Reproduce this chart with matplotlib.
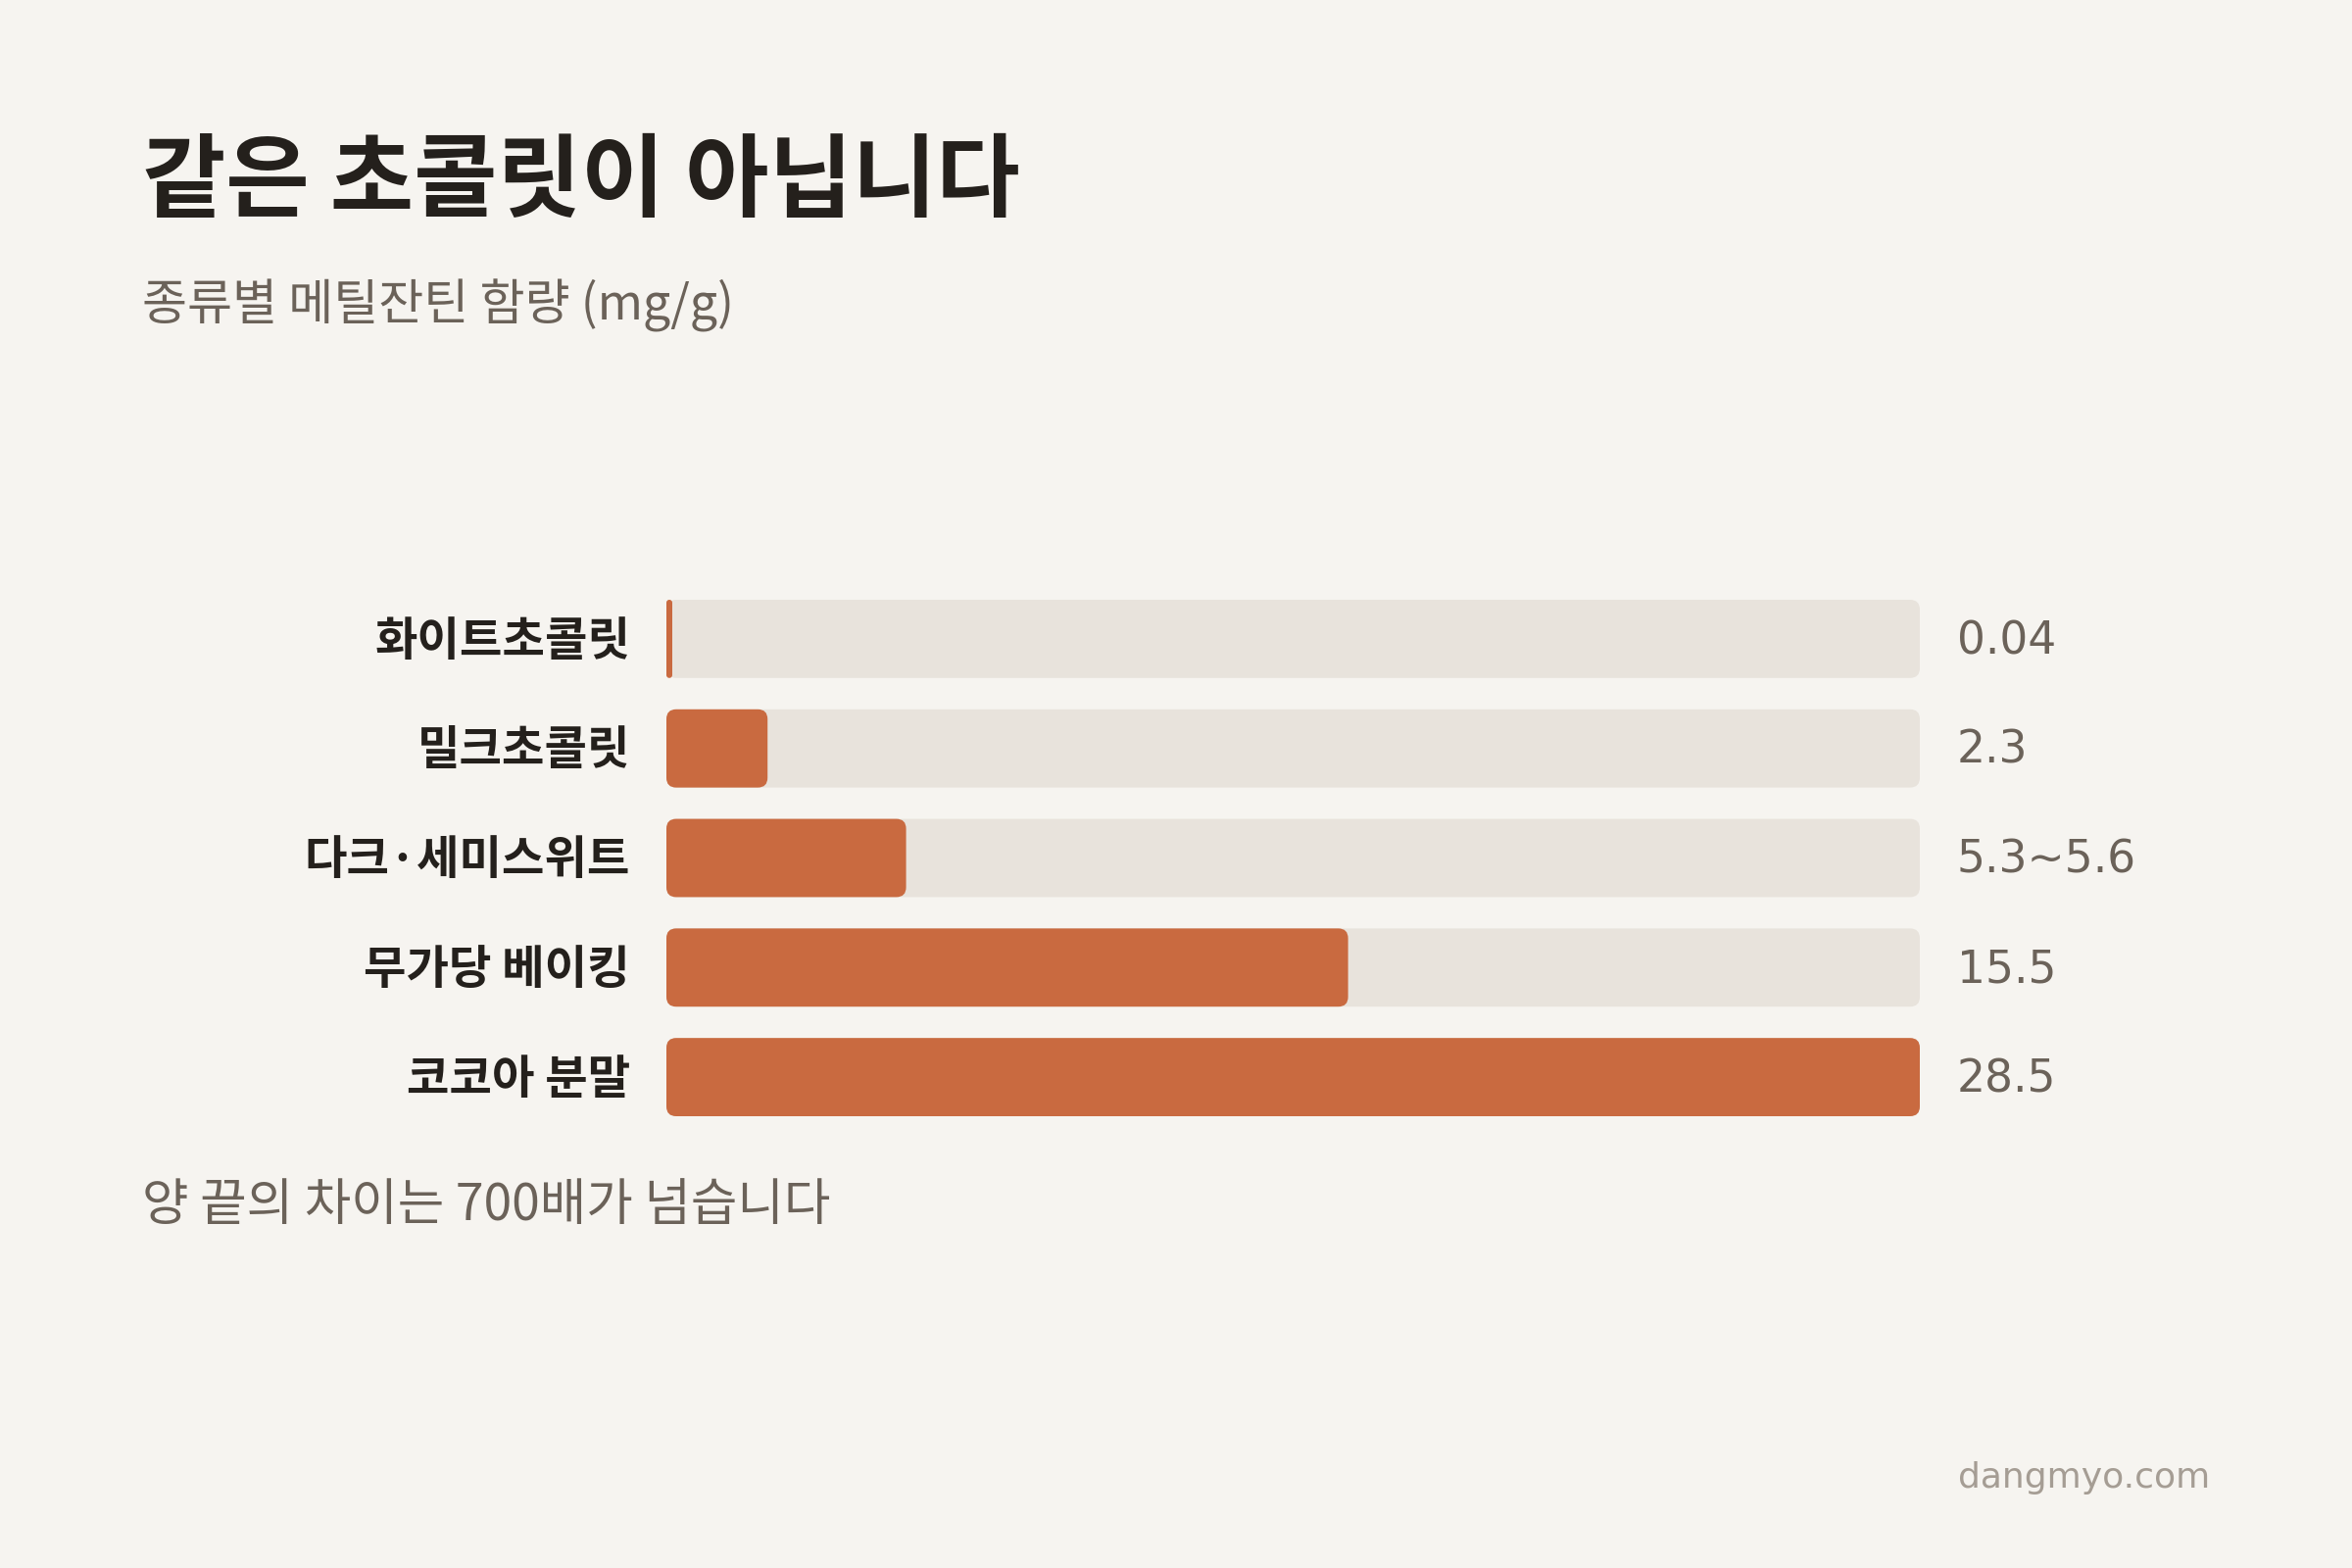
import matplotlib
matplotlib.use("Agg")
import matplotlib.pyplot as plt
from matplotlib.patches import FancyBboxPatch
from matplotlib.transforms import blended_transform_factory

# data
categories = ["화이트초콜릿", "밀크초콜릿", "다크·세미스위트", "무가당 베이킹", "코코아 분말"]
values = [0.04, 2.3, 5.45, 15.5, 28.5]
value_labels = ["0.04", "2.3", "5.3~5.6", "15.5", "28.5"]
max_value = 28.5

title = "같은 초콜릿이 아닙니다"
subtitle = "종류별 메틸잔틴 함량 (mg/g)"
note = "양 끝의 차이는 700배가 넘습니다"
source = "dangmyo.com"

BG = "#f6f4f0"
TRACK = "#e8e3dc"
BAR = "#c96a40"
DARK = "#24201c"
GRAY = "#6b6259"
LIGHT = "#a59d94"

plt.rcParams["font.family"] = ["Noto Sans CJK KR", "DejaVu Sans"]

W, H, DPI = 2400, 1600, 200
fig = plt.figure(figsize=(W / DPI, H / DPI), dpi=DPI, facecolor=BG)

# bar area in pixels: x 680..1959, first bar top 612, last bar bottom 1139
x0, x1 = 680, 1959
y_top, y_bot = 612, 1139
ax = fig.add_axes([x0 / W, 1 - y_bot / H, (x1 - x0) / W, (y_bot - y_top) / H])
ax.set_facecolor("none")
bar_h = 0.714
pad = bar_h / 2
ax.set_xlim(0, max_value)
ax.set_ylim(len(categories) - 1 + pad, -pad)
ax.axis("off")

px_per_x = (x1 - x0) / max_value
px_per_y = (y_bot - y_top) / (len(categories) - 1 + 2 * pad)
aspect = px_per_x / px_per_y
radius = 10 / px_per_x  # ~10 px corner radius
min_w = 6 / px_per_x

tr = blended_transform_factory(ax.transAxes, ax.transData)
for i, (v, lab, vl) in enumerate(zip(values, categories, value_labels)):
    track = FancyBboxPatch((0, i - bar_h / 2), max_value, bar_h,
                           boxstyle=f"round,pad=0,rounding_size={radius}",
                           mutation_aspect=aspect, fc=TRACK, ec="none")
    ax.add_patch(track)
    w = max(v, min_w)
    r = min(radius, w / 2)
    bar = FancyBboxPatch((0, i - bar_h / 2), w, bar_h,
                         boxstyle=f"round,pad=0,rounding_size={r}",
                         mutation_aspect=aspect, fc=BAR, ec="none")
    ax.add_patch(bar)

    ax.annotate(lab, xy=(0, i), xycoords=tr, xytext=(-13.3, -1), textcoords="offset points",
                ha="right", va="center", fontsize=17, fontweight="bold", color=DARK)
    ax.annotate(vl, xy=(1, i), xycoords=tr, xytext=(13.5, -1), textcoords="offset points",
                ha="left", va="center", fontsize=16.4, color=GRAY, family="DejaVu Sans")

fig.text(145 / W, 1 - 187 / H, title, fontsize=33.4, fontweight="bold", color=DARK,
         ha="left", va="center")
fig.text(145 / W, 1 - 312 / H, subtitle, fontsize=18, color=GRAY, ha="left", va="center")
fig.text(145 / W, 1 - 1230 / H, note, fontsize=18.6, color=GRAY, ha="left", va="center")
fig.text(2255 / W, 1 - 1508 / H, source, fontsize=13, color=LIGHT, ha="right", va="center",
         family="DejaVu Sans")

fig.savefig("out.png", dpi=DPI, facecolor=BG)
